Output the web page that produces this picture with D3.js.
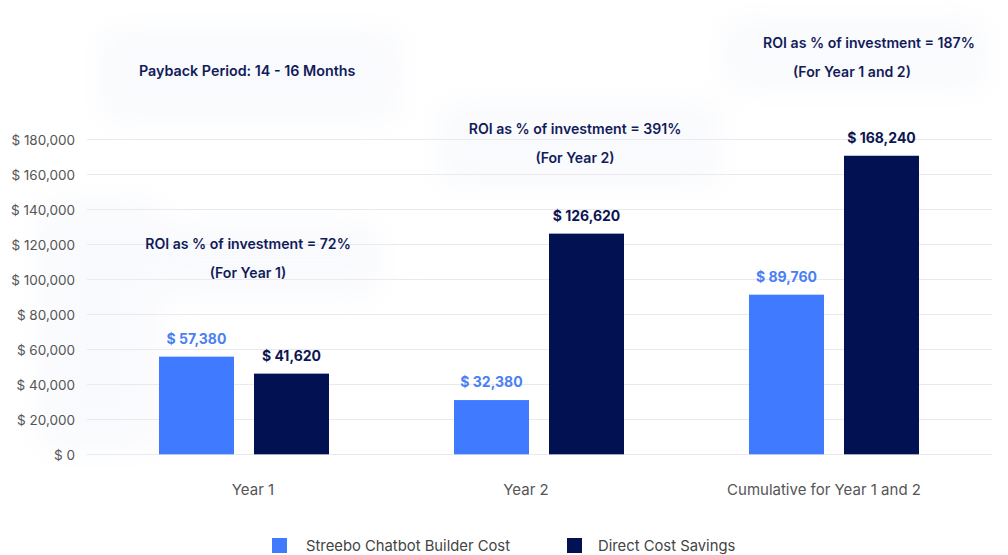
<!DOCTYPE html>
<html>
<head>
<meta charset="utf-8">
<script src="https://cdn.jsdelivr.net/npm/d3@7"></script>
<style>
  html, body { margin: 0; padding: 0; background: #ffffff; }
  svg { display: block; font-family: Inter, "Open Sans", sans-serif; }
</style>
</head>
<body>
<svg id="chart" width="1008" height="555"></svg>
<script>
// ---- data ----
const categories = ["Year 1", "Year 2", "Cumulative for Year 1 and 2"];
const seriesNames = ["Streebo Chatbot Builder Cost", "Direct Cost Savings"];
const costValues = [55800, 31000, 91200];
const savingsValues = [46100, 126100, 170600];
const costLabels = ["$ 57,380", "$ 32,380", "$ 89,760"];
const savingsLabels = ["$ 41,620", "$ 126,620", "$ 168,240"];
const yTicks = [0, 20000, 40000, 60000, 80000, 100000, 120000, 140000, 160000, 180000];
const roiLines = ["ROI as % of investment = 72%", "ROI as % of investment = 391%", "ROI as % of investment = 187%"];
const roiSubLines = ["(For Year 1)", "(For Year 2)", "(For Year 1 and 2)"];
const paybackText = "Payback Period: 14 - 16 Months";

// ---- layout ----
const svg = d3.select("#chart");
const colors = ["#407bff", "#021152"];
const navy = "#121b5a";

// faint background blobs
const defs = svg.append("defs");
defs.append("filter").attr("id", "blur").attr("x", "-50%").attr("y", "-50%").attr("width", "200%").attr("height", "200%")
  .append("feGaussianBlur").attr("stdDeviation", 16);
const blobs = [[100, 30, 300, 90], [440, 105, 280, 80], [120, 225, 260, 70], [725, 20, 260, 70], [40, 200, 120, 250]];
svg.append("g").attr("filter", "url(#blur)")
  .selectAll("rect").data(blobs).join("rect")
  .attr("x", d => d[0]).attr("y", d => d[1]).attr("width", d => d[2]).attr("height", d => d[3])
  .attr("fill", "#f9fafd");

const y = d3.scaleLinear().domain([0, 180000]).range([454.3, 139.3]);
const x = d3.scaleBand().domain(categories).range([96.5, 981.5]).paddingInner(125 / 295).paddingOuter(62.5 / 295);
const xs = d3.scaleBand().domain(seriesNames).range([0, x.bandwidth()]).paddingInner(20 / 95).paddingOuter(0);

// gridlines + y labels
const yAxis = d3.axisLeft(y).tickValues(yTicks).tickSize(0).tickPadding(0)
  .tickFormat(d => "$ " + d3.format(",")(d));
const gy = svg.append("g").attr("transform", "translate(75,0)").call(yAxis);
gy.select(".domain").remove();
gy.selectAll("text").attr("font-size", 13.5).attr("fill", "#555").attr("font-family", "Inter, sans-serif").attr("dy", "0.35em");
svg.append("g").selectAll("line").data(yTicks).join("line")
  .attr("x1", 87).attr("x2", 992)
  .attr("y1", d => Math.round(y(d)) + 0.5).attr("y2", d => Math.round(y(d)) + 0.5)
  .attr("stroke", "#e9e9ee").attr("stroke-width", 1);

// x labels
const labelShift = [9, -13, -10];
const xAxis = d3.axisBottom(x).tickSize(0).tickPadding(0);
const gx = svg.append("g").attr("transform", "translate(0,490)").call(xAxis);
gx.select(".domain").remove();
gx.selectAll("text").attr("font-size", 15).attr("fill", "#555").attr("font-family", "Inter, sans-serif").attr("dy", "0.35em")
  .attr("x", (d, i) => labelShift[i]);

// bars
const rows = categories.map((c, i) => ({
  cat: c,
  items: [
    { s: seriesNames[0], v: costValues[i], label: costLabels[i], color: colors[0] },
    { s: seriesNames[1], v: savingsValues[i], label: savingsLabels[i], color: colors[1] }
  ]
}));
const groups = svg.append("g").selectAll("g").data(rows).join("g")
  .attr("transform", d => `translate(${x(d.cat)},0)`);
groups.selectAll("rect").data(d => d.items).join("rect")
  .attr("x", d => xs(d.s)).attr("width", xs.bandwidth())
  .attr("y", d => y(d.v)).attr("height", d => y(0) - y(d.v))
  .attr("fill", d => d.color);
groups.selectAll("text").data(d => d.items).join("text")
  .attr("x", d => xs(d.s) + xs.bandwidth() / 2)
  .attr("y", d => y(d.v) - 18)
  .attr("dy", "0.35em")
  .attr("text-anchor", "middle")
  .attr("font-size", 14).attr("font-weight", 700)
  .attr("fill", d => d.color === colors[0] ? "#4a80f5" : "#0d1652")
  .text(d => d.label);

// annotations
const annoOffsets = [[4, 4], [36, 36], [35, 18]];
const annoY = [244, 129, 43];
categories.forEach((c, i) => {
  const cx = x(c) + x.bandwidth() / 2;
  svg.append("text").attr("x", cx + annoOffsets[i][0]).attr("y", annoY[i]).attr("dy", "0.35em")
    .attr("text-anchor", "middle").attr("font-size", 14.1).attr("font-weight", 600).attr("fill", navy)
    .text(roiLines[i]);
  svg.append("text").attr("x", cx + annoOffsets[i][1]).attr("y", annoY[i] + 29).attr("dy", "0.35em")
    .attr("text-anchor", "middle").attr("font-size", 14.1).attr("font-weight", 600).attr("fill", navy)
    .text(roiSubLines[i]);
});
svg.append("text").attr("x", 139).attr("y", 71).attr("dy", "0.35em")
  .attr("font-size", 14.3).attr("font-weight", 600).attr("fill", navy).text(paybackText);

// legend
const legendX = [272, 567];
const lg = svg.append("g").selectAll("g").data(seriesNames).join("g")
  .attr("transform", (d, i) => `translate(${legendX[i]},538)`);
lg.append("rect").attr("width", 15).attr("height", 15).attr("fill", (d, i) => colors[i]);
lg.append("text").attr("x", (d, i) => i === 0 ? 34 : 31).attr("y", 7.5).attr("dy", "0.35em")
  .attr("font-size", 14.8).attr("fill", "#444").text(d => d);
</script>
</body>
</html>
